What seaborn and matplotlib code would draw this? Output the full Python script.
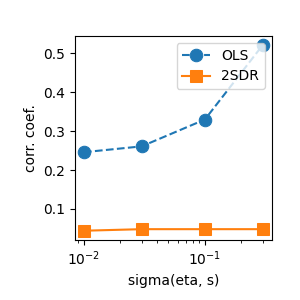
import matplotlib
matplotlib.use("Agg")
import matplotlib.pyplot as plt
import seaborn as sns
import pandas as pd

sigma = [0.01, 0.03, 0.1, 0.3]
ols = [0.246, 0.261, 0.330, 0.521]
sdr2 = [0.044, 0.048, 0.048, 0.048]

fig, ax = plt.subplots(figsize=(3, 3), dpi=100)
sns.lineplot(x=sigma, y=ols, ax=ax, marker="o", markersize=9, linestyle="--",
             color="#1f77b4", label="OLS", markeredgecolor="#1f77b4")
sns.lineplot(x=sigma, y=sdr2, ax=ax, marker="s", markersize=9, linestyle="-",
             color="#ff7f0e", label="2SDR", markeredgecolor="#ff7f0e")
ax.set_xscale("log")
ax.set_xlabel("sigma(eta, s)")
ax.set_ylabel("corr. coef.")
ax.legend(loc="upper right")
fig.subplots_adjust(left=0.25, right=0.905, top=0.88, bottom=0.2)
fig.savefig("out.png", dpi=100)
